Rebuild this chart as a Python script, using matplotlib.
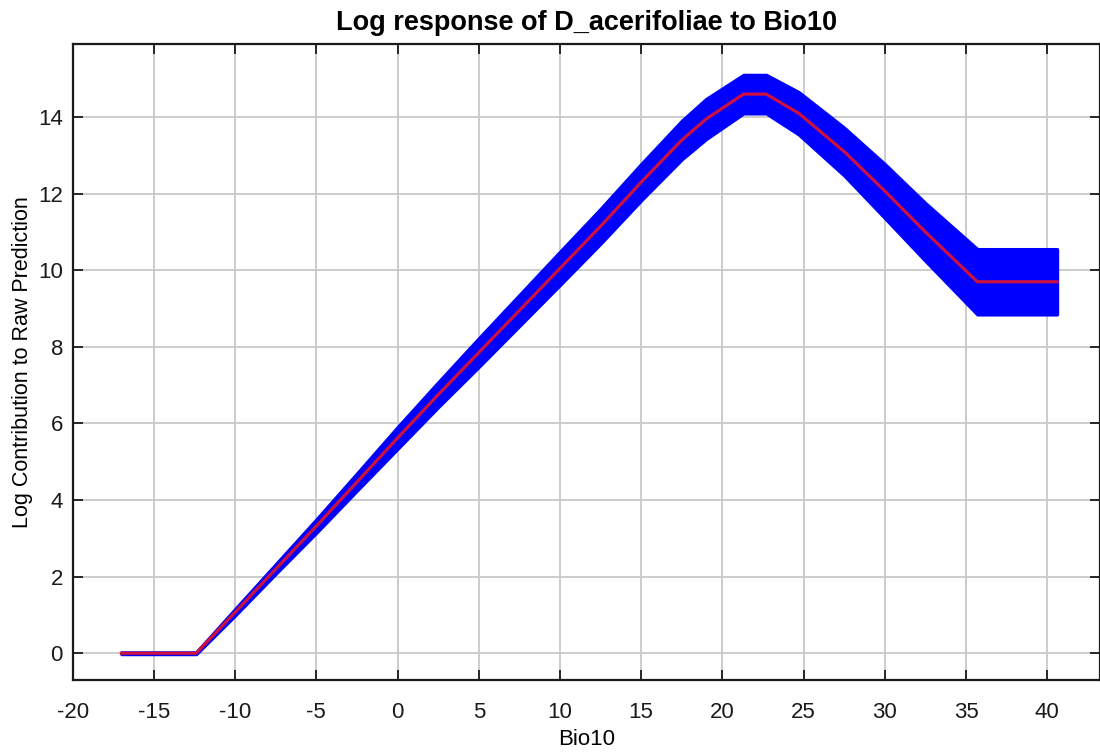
import numpy as np
import matplotlib
matplotlib.use("Agg")
import matplotlib.pyplot as plt

plt.rcParams['font.family'] = ['Liberation Sans', 'DejaVu Sans']
plt.rcParams['axes.unicode_minus'] = False

# Bio10 values and the mean log response, with its spread
bio10 = [-17, -12.4, -10, -7.5, -5, -2.5, 0, 2.5, 5, 7.5, 10, 12.5, 15,
         17.5, 19, 21.3, 22.7, 24.7, 27.5, 30, 32.5, 35.7, 40.6]
mean_resp = [0, 0, 1.07, 2.2, 3.32, 4.47, 5.62, 6.75, 7.85, 8.95, 10.05, 11.15, 12.3,
             13.4, 13.95, 14.6, 14.6, 14.1, 13.1, 12.07, 11.0, 9.7, 9.7]
spread = [0.02, 0.02, 0.08, 0.12, 0.17, 0.22, 0.28, 0.32, 0.37, 0.4, 0.43, 0.45, 0.47,
          0.5, 0.52, 0.5, 0.5, 0.55, 0.62, 0.7, 0.75, 0.85, 0.85]

xticks = list(range(-20, 45, 5))
yticks = list(range(0, 16, 2))

x = np.array(bio10)
m = np.array(mean_resp)
s = np.array(spread)

fig = plt.figure(figsize=(11, 7.54), dpi=100)
ax = fig.add_axes([0.0661, 0.0981, 0.9339, 0.8431])

ax.fill_between(x, m - s, m + s, color='#0000ff', lw=2.5, edgecolor='#0000ff', zorder=2)
ax.plot(x, m, color='#cc1040', lw=2.3, zorder=3)

ax.set_xlim(-20, 43.25)
ax.set_ylim(-0.7, 15.9)
ax.set_xticks(xticks)
ax.set_yticks(yticks)
ax.grid(True, color='#c8c8c8', lw=1.3, zorder=0)
ax.set_axisbelow(True)

ax.tick_params(direction='in', length=7, width=1.3, top=True, right=True,
               labelsize=16, colors='#1a1a1a')
ax.tick_params(axis='x', pad=16)
ax.tick_params(axis='y', pad=7)
for sp in ax.spines.values():
    sp.set_linewidth(1.6)
    sp.set_color('#1a1a1a')

ax.set_title('Log response of D_acerifoliae to Bio10', fontsize=19.5, fontweight='bold', pad=10)
ax.set_xlabel('Bio10', fontsize=16, labelpad=4)
ax.set_ylabel('Log Contribution to Raw Prediction', fontsize=15.5)
ax.yaxis.set_label_coords(-0.039, 0.5)

fig.savefig('out.png', dpi=100)
